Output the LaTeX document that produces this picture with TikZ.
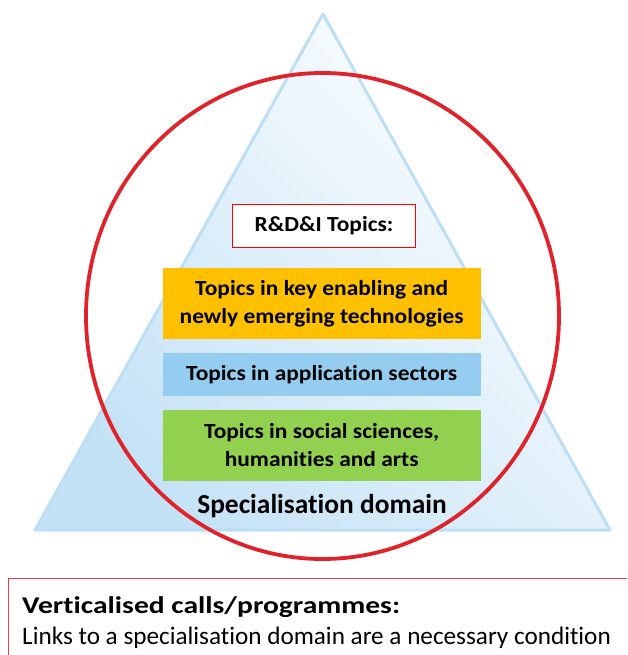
\documentclass[tikz,border=0pt]{standalone}
\usepackage{fontspec}
\setmainfont{Carlito}[Ligatures=NoCommon]
\newfontfamily\boxfont{Carlito}[FakeStretch=1.09, Ligatures=NoCommon]
\newfontfamily\headfont{Carlito}[FakeStretch=1.23, Ligatures=NoCommon]
\definecolor{tribd}{HTML}{BDDFF5}
\definecolor{trifill}{HTML}{C4E2F6}
\definecolor{ringred}{HTML}{E0222B}
\definecolor{boxred}{HTML}{E8404A}
\definecolor{orng}{HTML}{FFC000}
\definecolor{skyb}{HTML}{95CDF0}
\definecolor{grn}{HTML}{92D050}
\tikzset{
  layer/.style={minimum width=318pt, align=center, inner sep=0pt, font=\boxfont\fontsize{21.5}{28.4}\selectfont\bfseries},
}
\begin{document}
\begin{tikzpicture}[x=1pt,y=-1pt]
\useasboundingbox (0,0) rectangle (627,655);
\clip (0,0) rectangle (627,655);
% triangle
\coordinate (apex) at (323,14);
\coordinate (bl) at (35,530);
\coordinate (br) at (610,530);
\shade[left color=trifill, right color=white, shading angle=135] (apex) -- (bl) -- (br) -- cycle;
\draw[tribd, line width=3pt, line join=round] (apex) -- (bl) -- (br) -- cycle;
% circle
\draw[ringred, line width=3.8pt] (322.5,316) ellipse [x radius=236.5, y radius=243];
% title box
\node[draw=red, fill=white, line width=0.8pt, minimum width=183pt, minimum height=43pt, inner sep=0pt, font=\boxfont\fontsize{21.5}{26}\selectfont\bfseries] (rdi) at (324,225.8) {R\&D\&I Topics:};
\node[layer, fill=orng, minimum height=71pt] (kets) at (321.7,303.6) {Topics in key enabling and\\newly emerging technologies};
\node[layer, fill=skyb, minimum height=42.5pt] (apps) at (321.7,374.5) {Topics in application sectors};
\node[layer, fill=grn, minimum height=70.5pt] (ssh) at (321.7,445.3) {Topics in social sciences,\\humanities and arts};
\node[anchor=base, font=\fontsize{27.4}{30}\selectfont\bfseries, inner sep=0pt] (dom) at (322,513) {Specialisation domain};
% bottom box
\draw[boxred, line width=1pt] (8.8,700) -- (8.8,578.5) -- (700,578.5);
\node[anchor=base west, inner sep=0pt, font=\headfont\fontsize{24}{28}\selectfont\bfseries] (vert) at (22,613) {Verticalised calls/programmes:};
\node[anchor=base west, inner sep=0pt, font=\fontsize{25.2}{28}\selectfont] (links) at (22,644) {Links to a specialisation domain are a necessary condition};
\end{tikzpicture}
\end{document}
